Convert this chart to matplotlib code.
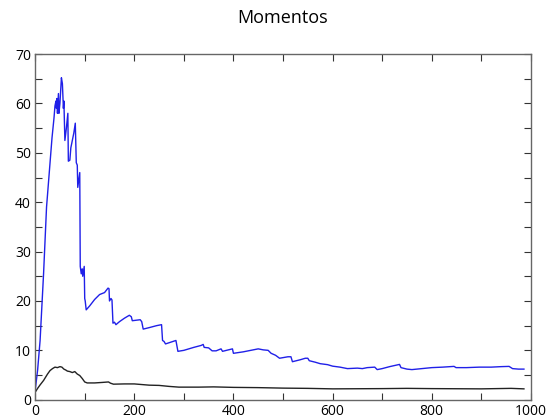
import matplotlib
matplotlib.use('Agg')
import matplotlib.pyplot as plt
from matplotlib.ticker import MultipleLocator

# blue series: running moment (sharp drops are repeated x values)
blue_x = [0, 5, 10, 17, 23, 30, 34, 38, 40, 42, 43, 44, 45, 47, 48, 50, 53, 55, 57, 58,
          60, 63, 66, 67, 70, 72, 78, 81, 83, 85, 86, 88, 90, 91, 93, 95, 96, 99, 100, 101,
          103, 110, 120, 130, 140, 147, 149, 150, 153, 155, 157, 160, 163, 170, 180, 190, 194, 196, 205, 212,
          215, 218, 230, 245, 255, 257, 260, 263, 275, 284, 288, 300, 320, 335, 339, 341, 350, 357, 365, 375,
          378, 390, 398, 400, 420, 435, 450, 460, 470, 476, 485, 493, 510, 516, 519, 535, 545, 550, 553, 565,
          575, 590, 600, 615, 630, 650, 660, 670, 685, 690, 700, 715, 735, 738, 750, 760, 780, 800, 822, 845,
          849, 870, 896, 920, 940, 956, 963, 975, 986]
blue_y = [1.8, 6, 12, 25.5, 39, 48, 53, 57, 59.5, 60.5, 59, 61, 58, 62, 58, 60, 65.2, 64, 59, 60.5,
          52.5, 55, 58, 48.3, 48.5, 51, 54, 56, 48, 47.5, 43, 44.5, 46, 27, 25.5, 26.5, 25, 27, 20.5, 20,
          18.2, 19, 20.3, 21.3, 21.7, 22.6, 22.5, 20, 20.5, 20.2, 15.5, 15.7, 15.2, 15.8, 16.5, 17.1, 16.8, 16, 16.1, 16.2,
          15.8, 14.3, 14.6, 15, 15.2, 12, 11.8, 11.3, 11.7, 12, 9.8, 10, 10.6, 11, 11.2, 10.6, 10.5, 9.9, 9.9, 10.3,
          9.8, 10.1, 10.3, 9.4, 9.7, 10, 10.3, 10.1, 10, 9.4, 9.0, 8.4, 8.7, 8.7, 7.7, 8.1, 8.4, 8.4, 7.9, 7.6,
          7.3, 7.1, 6.8, 6.6, 6.3, 6.4, 6.3, 6.5, 6.6, 6.1, 6.3, 6.7, 7.15, 6.5, 6.2, 6.1, 6.3, 6.5, 6.6, 6.75,
          6.5, 6.5, 6.6, 6.6, 6.7, 6.75, 6.3, 6.2, 6.2]

# black series
black_x = [0, 5, 10, 17, 25, 30, 35, 40, 45, 50, 54, 58, 62, 65, 70, 75, 80, 85, 90, 95,
           100, 105, 120, 135, 148, 152, 158, 180, 200, 230, 250, 270, 290, 330, 360, 400, 450, 500, 550, 600,
           700, 750, 800, 900, 960, 986]
black_y = [1.5, 2.3, 3, 3.9, 5.2, 5.9, 6.3, 6.6, 6.5, 6.7, 6.6, 6.2, 6.0, 5.8, 5.7, 5.5, 5.7, 5.2, 4.9, 4.3,
           3.6, 3.4, 3.4, 3.5, 3.6, 3.35, 3.15, 3.2, 3.2, 2.95, 2.9, 2.7, 2.55, 2.55, 2.6, 2.5, 2.45, 2.35, 2.3, 2.2,
           2.25, 2.3, 2.25, 2.2, 2.3, 2.2]

plt.rcParams['font.family'] = ['Open Sans', 'DejaVu Sans']

fig = plt.figure(figsize=(5.49, 4.19), dpi=100)
ax = fig.add_axes([0.064, 0.046, 0.903, 0.825])

ax.plot(blue_x, blue_y, color='#2020e8', lw=1.0)
ax.plot(black_x, black_y, color='#222222', lw=1.0)

ax.set_xlim(0, 1000)
ax.set_ylim(0, 70)
ax.xaxis.set_major_locator(MultipleLocator(200))
ax.xaxis.set_minor_locator(MultipleLocator(100))
ax.yaxis.set_major_locator(MultipleLocator(10))
ax.yaxis.set_minor_locator(MultipleLocator(5))
ax.tick_params(which='both', direction='in', top=True, right=True, labelsize=10,
               color='#333333', width=0.8, pad=3, length=5)
for s in ax.spines.values():
    s.set_color('#666666')
    s.set_linewidth(1.0)

ax.set_title('Momentos', fontsize=13, pad=22)

fig.savefig('out.png', dpi=100)
